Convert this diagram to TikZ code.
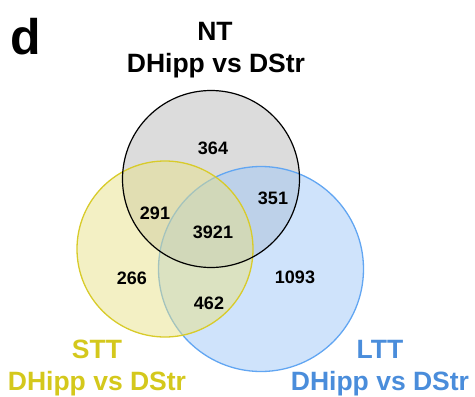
\documentclass[tikz,border=0pt]{standalone}
\usepackage{fontspec}
\setmainfont{Liberation Sans}
\usetikzlibrary{positioning}
\definecolor{ntfill}{HTML}{B9B9B9}
\definecolor{sttfill}{HTML}{E7E189}
\definecolor{lttfill}{HTML}{9FC7F7}
\definecolor{sttline}{HTML}{D8CB2A}
\definecolor{lttline}{HTML}{62A6F2}
\definecolor{stttext}{HTML}{D4C81C}
\definecolor{ltttext}{HTML}{4A8DDB}
\begin{document}
\begin{tikzpicture}[x=1pt, y=-1pt,
    set/.style = {circle, inner sep=0pt, fill opacity=0.5, line width=1.3pt},
    num/.style = {inner sep=0pt, font=\fontsize{18}{20}\selectfont\bfseries},
    ttl/.style = {inner sep=0pt, anchor=base, font=\fontsize{26.5}{33}\selectfont\bfseries}]
    \useasboundingbox (0,0) rectangle (475,397);
    \node[set, fill=ntfill, minimum size=177pt] (NT) at (211,179) {};
    \node[set, fill=lttfill, draw=lttline, minimum size=205pt] (LTT) at (261,269) {};
    \node[set, fill=sttfill, draw=sttline, minimum size=176pt] (STT) at (165,249) {};
    \draw[black, line width=1.2pt] (NT.center) circle (88.5);
    \node[font=\fontsize{50}{50}\selectfont\bfseries, inner sep=0pt] (panel) at (26,37) {d};
    \node[ttl] (NTa) at (215,40) {NT};
    \node[ttl] (NTb) at (216,72) {DHipp vs DStr};
    \node[ttl, text=stttext] (STTa) at (97,358) {STT};
    \node[ttl, text=stttext] (STTb) at (97,390) {DHipp vs DStr};
    \node[ttl, text=ltttext] (LTTa) at (380,358) {LTT};
    \node[ttl, text=ltttext] (LTTb) at (380,390) {DHipp vs DStr};
    \node[num] (n364) at (213,148) {364};
    \node[num] (n351) at (273,198) {351};
    \node[num] (n291) at (155,213) {291};
    \node[num] (n3921) at (213,232) {3921};
    \node[num] (n266) at (132,278) {266};
    \node[num] (n1093) at (295,277) {1093};
    \node[num] (n462) at (209,303) {462};
\end{tikzpicture}
\end{document}
